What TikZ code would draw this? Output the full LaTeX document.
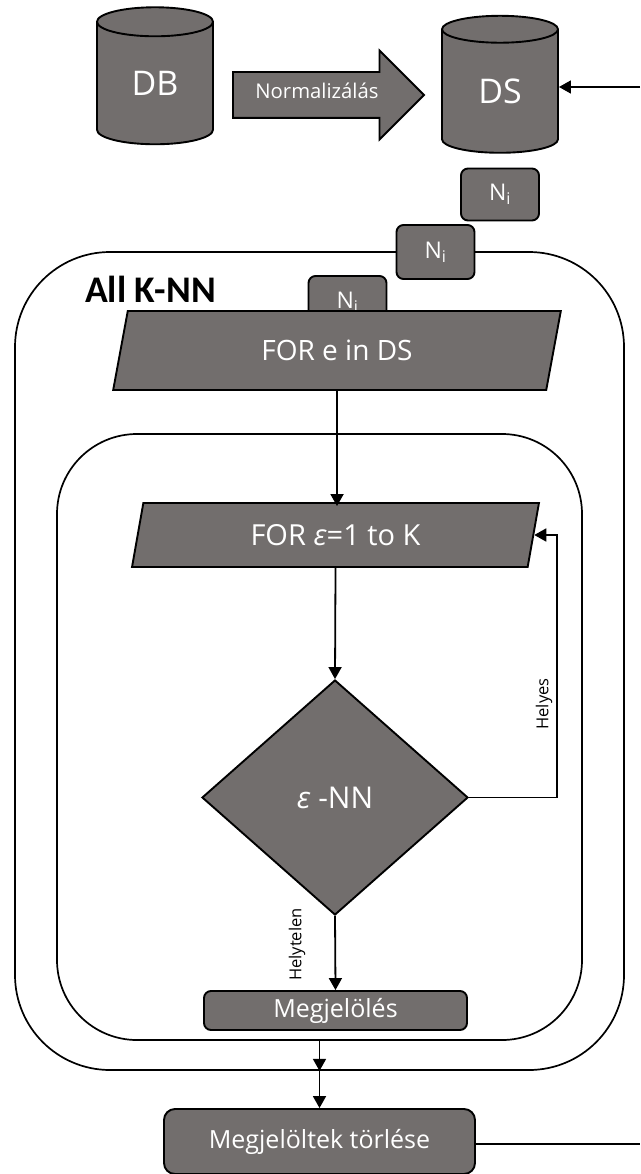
\documentclass[tikz,border=0pt]{standalone}
\usepackage{fontspec}
\setmainfont{Open Sans}
\newfontfamily\labelfont{Carlito}
\usetikzlibrary{arrows.meta, shapes.geometric, shapes.arrows, calc, positioning}
\definecolor{boxGrey}{HTML}{726E6D}
\definecolor{capGrey}{HTML}{A9A9A7}
\tikzset{
  flowline/.style   = {-{Triangle[length=12pt,width=13pt]}, line width=1.8pt, black},
  plainline/.style  = {line width=1.8pt, black},
  greybox/.style    = {draw=black, line width=1.9pt, fill=boxGrey, text=white, inner sep=0pt},
  frame/.style      = {rectangle, rounded corners=#1, draw=black, line width=1.7pt, inner sep=0pt},
  dbshape/.style    = {greybox, cylinder, shape border rotate=90, aspect=0.62, cylinder uses custom fill,
                       cylinder body fill=boxGrey, cylinder end fill=capGrey,
                       minimum width=116pt, font=\fontsize{34}{34}\selectfont},
  nibox/.style      = {greybox, rectangle, rounded corners=7pt, minimum width=78pt, minimum height=52pt,
                       font=\fontsize{23}{23}\selectfont},
  forbox/.style     = {greybox, trapezium, trapezium stretches=true, trapezium left angle=#1,
                       trapezium right angle=180-#1},
  stepbox/.style    = {greybox, rectangle, rounded corners=7pt},
  sidelbl/.style    = {rotate=90, font=\fontsize{16.5}{16.5}\selectfont, inner sep=0pt},
}
\begin{document}
\begin{tikzpicture}[x=1pt, y=-1pt]
  \useasboundingbox (0,0) rectangle (640,1174);

  % top row
  \node[dbshape, minimum height=137pt] (db) at (155,83.5) {DB};
  \node[dbshape, minimum height=137pt] (ds) at (500,91.5) {DS};
  \node[greybox, single arrow, single arrow head indent=0pt, single arrow tip angle=90,
        single arrow head extend=21.5pt, minimum width=87pt, minimum height=191pt,
        inner ysep=12pt, text height=14pt, text depth=6pt,
        font=\fontsize{20.3}{20.3}\selectfont] (norm) at (317,95) {Normalizálás\hspace{13pt}};

  % frames
  \node[frame=95pt, minimum width=609pt, minimum height=818pt] (outerbox) at (319.5,661) {};
  \node[frame=80pt, minimum width=525pt, minimum height=606pt] (innerbox) at (319.5,737) {};
  \node[font=\labelfont\bfseries\fontsize{37.6}{37.6}\selectfont, anchor=west, inner sep=0pt] (allknn) at (85,289.5) {All K-NN};

  \node[nibox] (ni1) at (500,194.5) {N\textsubscript{i}};
  \node[nibox, minimum height=54pt] (ni2) at (435.5,252) {N\textsubscript{i}};
  \node[nibox] (ni3) at (347.5,302) {N\textsubscript{i}};

  % flow
  \node[forbox=75.8, minimum width=448pt, minimum height=79pt, font=\fontsize{28}{28}\selectfont]
    (for1) at (337,350.5) {FOR e in DS};
  \node[forbox=76.8, minimum width=407pt, minimum height=64pt, font=\fontsize{29}{29}\selectfont]
    (for2) at (335.5,535) {FOR \textit{ε}=1 to K\hspace{6pt}};
  \node[greybox, diamond, minimum width=266pt, minimum height=235pt, font=\fontsize{30}{30}\selectfont]
    (eps) at (335,797.5) {\textit{ε} -NN};
  \node[stepbox, minimum width=263pt, minimum height=39pt, font=\fontsize{25}{25}\selectfont]
    (jelol) at (335.5,1010.5) {Megjelölés};
  \node[stepbox, rounded corners=11pt, minimum width=311pt, minimum height=65pt, font=\fontsize{25}{25}\selectfont]
    (torles) at (319.5,1141.5) {Megjelöltek törlése};

  \coordinate (dsright) at (640,87);
  \coordinate (torlesright) at (640,1144);
  \coordinate (loop) at (557,535);

  \draw[flowline] (dsright) -- (dsright -| ds.east);
  \draw[flowline, shorten >=-4pt] (for1.south) -- (for1.south |- for2.north);
  \draw[flowline] (for2.south) -- (eps.north);
  \draw[flowline] (eps.east) -| (loop) -- (for2.east);
  \draw[flowline] (eps.south) -- (jelol.north);
  \draw[flowline] (torles.north |- innerbox.south) -- (torles.north |- outerbox.south);
  \draw[flowline] (torles.north |- outerbox.south) -- (torles.north);
  \draw[plainline] (torles.east |- torlesright) -- (torlesright);

  \node[sidelbl] (helyes) at (544,704) {Helyes};
  \node[sidelbl] (helytelen) at (297,944.5) {Helytelen};
\end{tikzpicture}
\end{document}
